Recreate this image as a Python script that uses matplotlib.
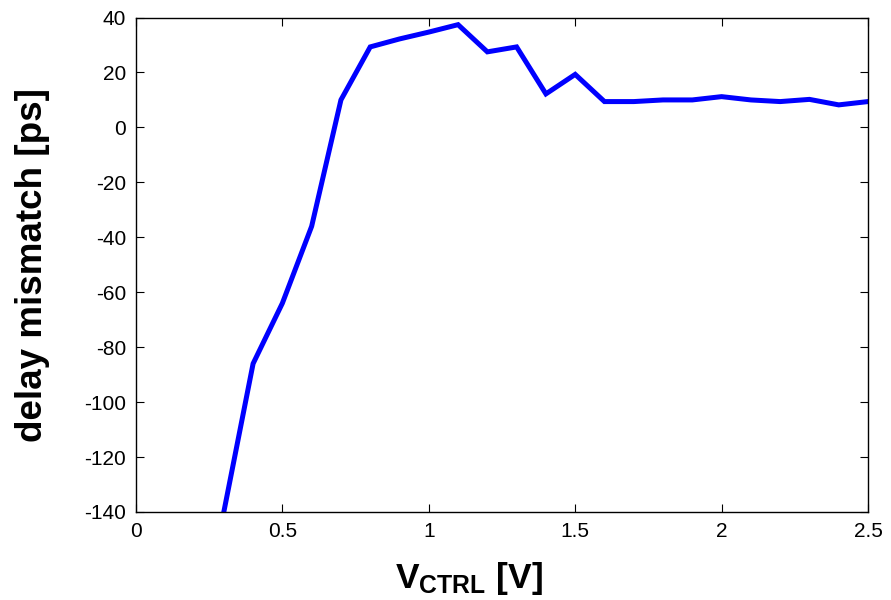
import matplotlib
matplotlib.use("Agg")
import matplotlib.pyplot as plt

vctrl = [0.3, 0.4, 0.5, 0.6, 0.7, 0.8, 0.9, 1.0, 1.1, 1.2, 1.3, 1.4, 1.5,
         1.6, 1.7, 1.8, 1.9, 2.0, 2.1, 2.2, 2.3, 2.4, 2.5]
mismatch = [-140, -86, -64, -36, 10, 29.3, 32.2, 34.7, 37.4, 27.5, 29.3, 12.2, 19.3,
            9.4, 9.4, 10.0, 10.0, 11.2, 10.0, 9.4, 10.2, 8.2, 9.4]
xticks = [0, 0.5, 1, 1.5, 2, 2.5]
xticklabels = ["0", "0.5", "1", "1.5", "2", "2.5"]
yticks = list(range(-140, 41, 20))

plt.rcParams['font.family'] = ['Liberation Sans', 'DejaVu Sans']
plt.rcParams['mathtext.fontset'] = 'custom'
plt.rcParams['mathtext.rm'] = 'Liberation Sans'
plt.rcParams['mathtext.bf'] = 'Liberation Sans:bold'
plt.rcParams['mathtext.default'] = 'bf'
plt.rcParams['axes.unicode_minus'] = False

fig = plt.figure(figsize=(8.91, 6.0), dpi=100)
ax = fig.add_axes([0.1526, 0.1467, 0.8216, 0.8241])
ax.plot(vctrl, mismatch, color='#0000ff', lw=3.6, solid_joinstyle='miter')
ax.set_xlim(0, 2.5)
ax.set_ylim(-140, 40)
ax.set_xticks(xticks)
ax.set_xticklabels(xticklabels)
ax.set_yticks(yticks)
ax.tick_params(direction='in', top=True, right=True, labelsize=15, length=6, width=0.8, pad=7)
for s in ax.spines.values():
    s.set_linewidth(1.0)
ax.set_xlabel(r'V$_{\mathbf{CTRL}}$ [V]', fontsize=25.5, fontweight='bold', labelpad=14)
ax.xaxis.label.set_x(0.455)
ax.set_ylabel('delay mismatch [ps]', fontsize=26.5, fontweight='bold', labelpad=25)
fig.savefig('out.png', dpi=100)
